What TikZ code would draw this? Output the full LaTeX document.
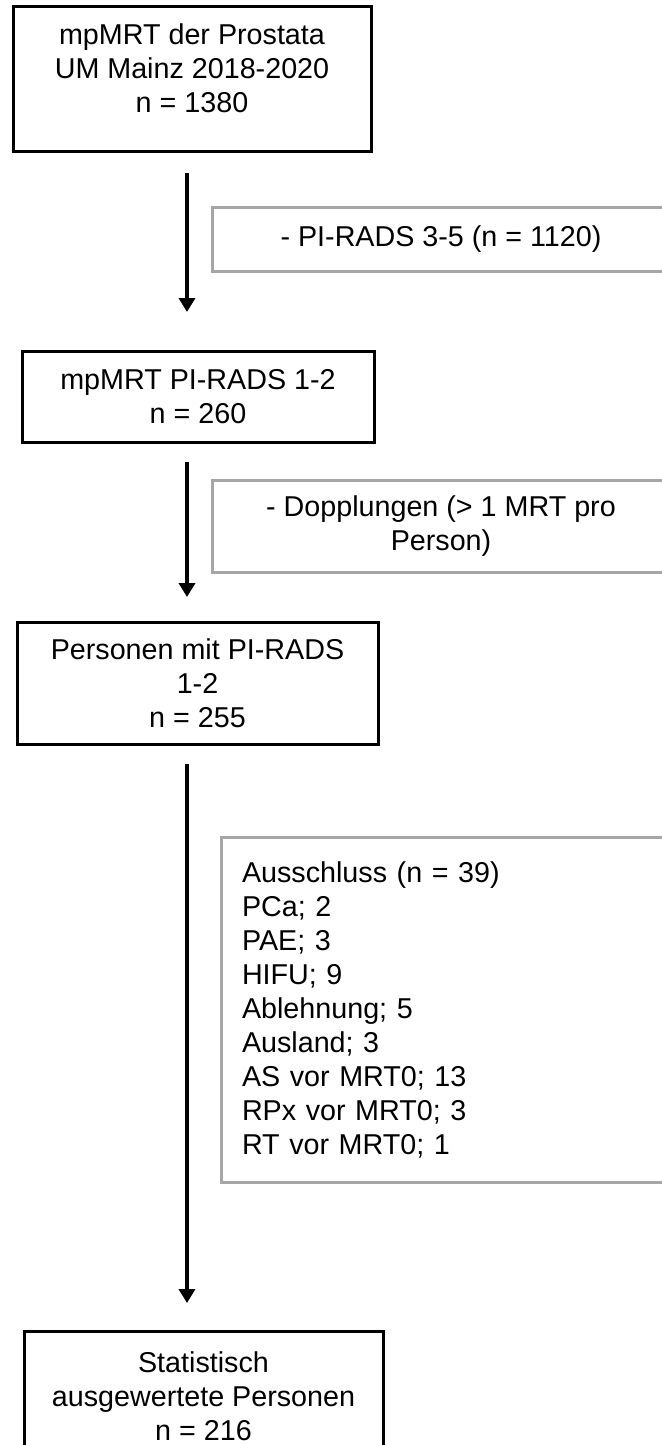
\documentclass[tikz,border=0pt]{standalone}
\usepackage{fontspec}
\setmainfont{Liberation Sans}
\usetikzlibrary{arrows.meta}
\definecolor{exclgrey}{HTML}{A6A6A6}
\begin{document}
\begin{tikzpicture}[x=1pt,y=-1pt,
    font=\fontsize{28.7}{34}\selectfont,
    stage/.style={draw=black,line width=3pt,align=center,inner sep=0pt,outer sep=0pt,anchor=north west},
    excl/.style={draw=exclgrey,line width=3pt,align=center,inner sep=0pt,outer sep=0pt,anchor=north west},
    flow/.style={-{Triangle[width=16pt,length=14pt]},line width=3.5pt}]
  \useasboundingbox[fill=white] (0,0) rectangle (661,1445);
  \draw
    (13,7) node[stage,minimum width=358pt,minimum height=144pt] (mrt){mpMRT der Prostata\\UM Mainz 2018-2020\\n = 1380\\[-12pt]\mbox{}}
    (212,207) node[excl,minimum width=458pt,minimum height=64pt] (pirads35){- PI-RADS 3-5 (n = 1120)}
    (22,351) node[stage,minimum width=352pt,minimum height=91pt] (pirads12){mpMRT PI-RADS 1-2\\n = 260}
    (212,480) node[excl,minimum width=458pt,minimum height=92pt] (dopp){- Dopplungen (> 1 MRT pro\\Person)}
    (17,622) node[stage,minimum width=361pt,minimum height=122pt] (pers){Personen mit PI-RADS\\1-2\\n = 255}
    (221,837) node[excl,minimum width=449pt,minimum height=345pt,text width=407pt,align=left] (aussch){Ausschluss (n = 39)\\PCa; 2\\PAE; 3\\HIFU; 9\\Ablehnung; 5\\Ausland; 3\\AS vor MRT0; 13\\RPx vor MRT0; 3\\RT vor MRT0; 1}
    (24,1331) node[stage,minimum width=359pt,minimum height=130pt] (stat){Statistisch\\ausgewertete Personen\\n = 216};
  \coordinate (s1) at (187,173);
  \coordinate (e1) at (187,312);
  \coordinate (s2) at (187,462);
  \coordinate (e2) at (187,597);
  \coordinate (s3) at (187,764);
  \coordinate (e3) at (187,1303);
  \begin{scope}[flow]
    \draw (s1) to (e1);
    \draw (s2) to (e2);
    \draw (s3) to (e3);
  \end{scope}
\end{tikzpicture}
\end{document}
